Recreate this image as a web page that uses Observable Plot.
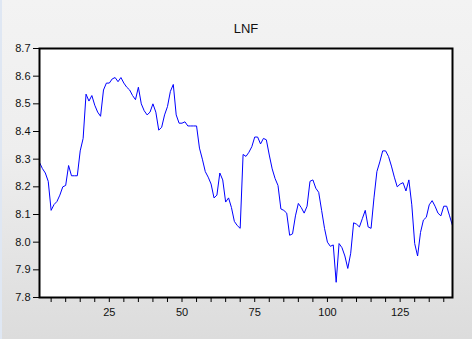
<!DOCTYPE html>
<html>
<head>
<meta charset="utf-8">
<script src="https://cdn.jsdelivr.net/npm/d3@7"></script>
<script src="https://cdn.jsdelivr.net/npm/@observablehq/plot@0.6"></script>
<style>
  html, body { margin: 0; padding: 0; }
  body {
    width: 472px; height: 339px; overflow: hidden;
    background: linear-gradient(to bottom, #f3f3f3 0%, #eeeeee 45%, #dcdcdc 100%);
    box-shadow: inset 2px 0 0 #dfe7f3;
    font-family: "Liberation Sans", Arial, sans-serif;
  }
  #chart svg { display: block; background: transparent; }
</style>
</head>
<body>
<div id="chart"></div>
<script>
const title = "LNF";
const lnf = [
  8.288, 8.266, 8.250, 8.220, 8.115, 8.136, 8.147, 8.170, 8.200, 8.205,
  8.277, 8.240, 8.240, 8.240, 8.330, 8.375, 8.535, 8.510, 8.530, 8.495,
  8.470, 8.455, 8.550, 8.575, 8.575, 8.590, 8.595, 8.580, 8.595, 8.575,
  8.560, 8.550, 8.530, 8.515, 8.560, 8.500, 8.475, 8.460, 8.470, 8.500,
  8.470, 8.405, 8.415, 8.460, 8.490, 8.545, 8.570, 8.460, 8.430, 8.430,
  8.435, 8.420, 8.420, 8.420, 8.420, 8.340, 8.300, 8.255, 8.235, 8.210,
  8.160, 8.170, 8.250, 8.225, 8.145, 8.160, 8.125, 8.075, 8.060, 8.050,
  8.317, 8.310, 8.325, 8.345, 8.380, 8.380, 8.355, 8.375, 8.370, 8.315,
  8.265, 8.230, 8.205, 8.120, 8.115, 8.105, 8.025, 8.030, 8.095, 8.140,
  8.125, 8.105, 8.130, 8.220, 8.225, 8.195, 8.180, 8.115, 8.050, 8.000,
  7.985, 7.990, 7.855, 7.995, 7.980, 7.950, 7.905, 7.960, 8.070, 8.065,
  8.055, 8.085, 8.115, 8.055, 8.050, 8.160, 8.255, 8.290, 8.330, 8.330,
  8.310, 8.275, 8.235, 8.200, 8.210, 8.215, 8.185, 8.225, 8.135, 7.995,
  7.950, 8.035, 8.080, 8.090, 8.135, 8.150, 8.130, 8.105, 8.095, 8.130,
  8.130, 8.095, 8.060
];
const xTicks = [5,10,15,20,25,30,35,40,45,50,55,60,65,70,75,80,85,90,95,100,105,110,115,120,125,130,135,140];
const xLabels = [25, 50, 75, 100, 125];
const yTicks = [7.8, 7.9, 8.0, 8.1, 8.2, 8.3, 8.4, 8.5, 8.6, 8.7];

const chart = Plot.plot({
  width: 472,
  height: 339,
  marginLeft: 39,
  marginRight: 20,
  marginTop: 48,
  marginBottom: 42,
  style: { fontFamily: "'Liberation Sans', Arial, sans-serif", fontSize: "11px", color: "#111", background: "transparent" },
  x: { domain: [1, lnf.length] },
  y: { domain: [7.8, 8.7] },
  marks: [
    Plot.frame({ fill: "white", stroke: null }),
    Plot.lineY(lnf, { x: (d, i) => i + 1, y: d => d, stroke: "#0000ff", strokeWidth: 1 }),
    Plot.frame({ stroke: "black", strokeWidth: 2 }),
    Plot.axisX({ ticks: xTicks, tickSize: 5, tickPadding: 6, tickFormat: d => xLabels.includes(d) ? String(d) : "", label: null, stroke: "black" }),
    Plot.axisY({ ticks: yTicks, tickSize: 6, tickPadding: 3, tickFormat: d3.format(".1f"), label: null, stroke: "black" }),
    Plot.text([title], { text: d => d, frameAnchor: "top", dy: -25, fontSize: 13, fill: "#111" })
  ]
});
document.getElementById("chart").appendChild(chart);
</script>
</body>
</html>
